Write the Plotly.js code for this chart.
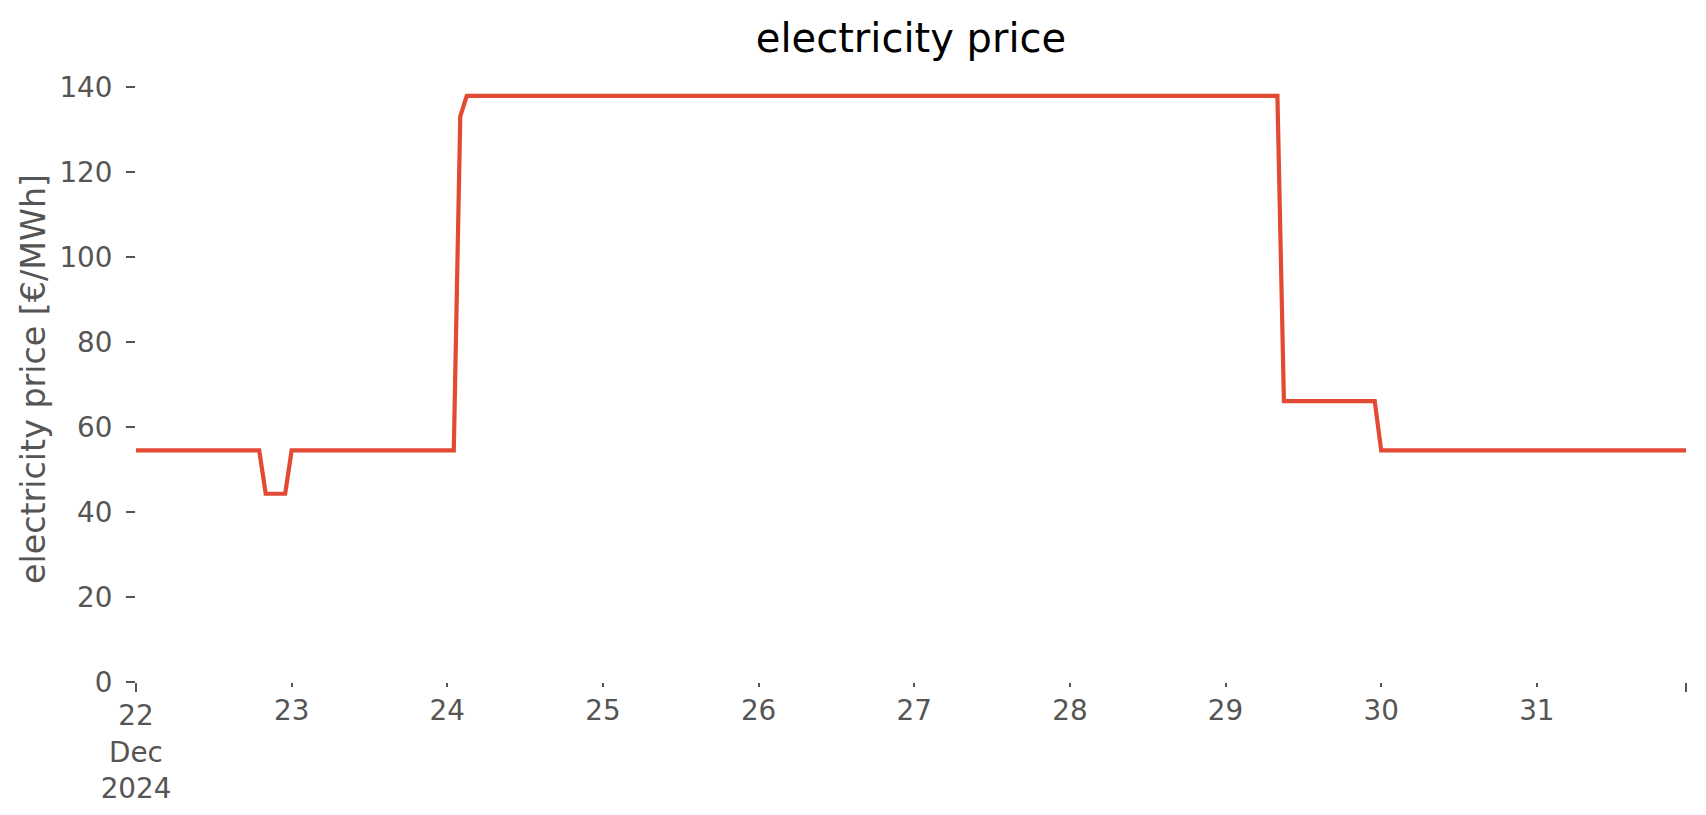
<!DOCTYPE html>
<html>
<head>
<meta charset="utf-8">
<script src="https://cdn.plot.ly/plotly-3.0.1.min.js"></script>
<style>html,body{margin:0;padding:0;background:#fff;}#chart{width:1706px;height:815px;}</style>
</head>
<body>
<div id="chart"></div>
<script>
// breakpoints of the hourly price series (value constant between listed points)
const times = [
  '2024-12-22 00:00', '2024-12-22 19:00', '2024-12-22 20:00', '2024-12-22 23:00',
  '2024-12-23 00:00', '2024-12-24 01:00', '2024-12-24 02:00', '2024-12-24 03:00',
  '2024-12-29 08:00', '2024-12-29 09:00', '2024-12-29 23:00', '2024-12-30 00:00',
  '2024-12-31 23:00'
];
const prices = [54.5, 54.5, 44.3, 44.3, 54.5, 54.5, 133.1, 137.9, 137.9, 66.1, 66.1, 54.5, 54.5];

const dayTicks = ['2024-12-23', '2024-12-24', '2024-12-25', '2024-12-26', '2024-12-27',
                  '2024-12-28', '2024-12-29', '2024-12-30', '2024-12-31'];
const dayLabels = ['23', '24', '25', '26', '27', '28', '29', '30', '31'];
const majorTicks = ['2024-12-22 00:00', '2024-12-31 23:00'];
const majorLabels = ['22<br>Dec<br>2024', ''];
const yTicks = [0, 20, 40, 60, 80, 100, 120, 140];

const font = 'DejaVu Sans, sans-serif';
const grey = '#555555';
const xRange = ['2024-12-22 00:00', '2024-12-31 23:00'];

const trace = {
  x: times, y: prices, type: 'scatter', mode: 'lines',
  line: {color: '#E24A33', width: 4.2}, hoverinfo: 'x+y', showlegend: false
};

const layout = {
  width: 1706, height: 815,
  margin: {l: 136, r: 20, t: 76, b: 133, pad: 0},
  paper_bgcolor: '#ffffff', plot_bgcolor: '#ffffff',
  font: {family: font, color: grey},
  title: {text: 'electricity price', font: {family: font, size: 40, color: '#000000'},
          x: 0.5, xref: 'paper', xanchor: 'center', y: 1 - 38/815, yref: 'container', yanchor: 'middle'},
  xaxis: {
    type: 'date', range: xRange, tickmode: 'array', tickvals: majorTicks, ticktext: majorLabels,
    ticks: 'outside', ticklen: 9, tickwidth: 2, tickcolor: grey,
    tickfont: {family: font, size: 27.8, color: grey},
    showgrid: false, zeroline: false, showline: false, fixedrange: true
  },
  xaxis2: {
    type: 'date', range: xRange, overlaying: 'x', anchor: 'y', side: 'bottom',
    tickmode: 'array', tickvals: dayTicks, ticktext: dayLabels,
    ticks: 'outside', ticklen: 4, tickwidth: 2, tickcolor: grey,
    tickfont: {family: font, size: 27.8, color: grey},
    showgrid: false, zeroline: false, showline: false, fixedrange: true
  },
  yaxis: {
    range: [0, 142.6], tickmode: 'array', tickvals: yTicks,
    ticks: 'outside', ticklen: 9, tickwidth: 2, tickcolor: grey, ticklabelstandoff: 8,
    tickfont: {family: font, size: 27.8, color: grey},
    showgrid: false, zeroline: false, showline: false, fixedrange: true,
    title: {text: 'electricity price [€/MWh]', font: {family: font, size: 33.3, color: grey}, standoff: 3},
    automargin: false
  }
};

Plotly.newPlot('chart', [trace, {x: [], y: [], xaxis: 'x2', yaxis: 'y', type: 'scatter', showlegend: false}], layout, {displayModeBar: false, staticPlot: true});
</script>
</body>
</html>
